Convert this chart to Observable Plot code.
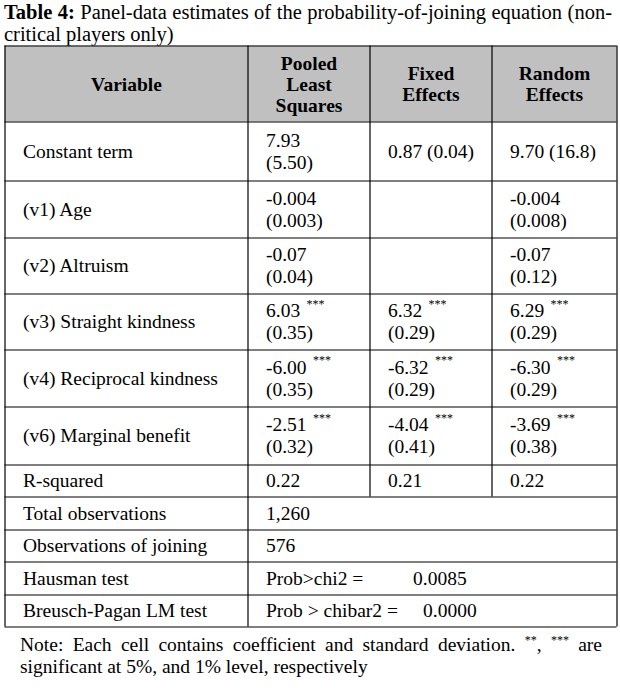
<!DOCTYPE html>
<html>
<head>
<meta charset="utf-8">
<script src="https://cdn.jsdelivr.net/npm/d3@7"></script>
<script src="https://cdn.jsdelivr.net/npm/@observablehq/plot@0.6"></script>
<style>
  body { margin: 0; background: #fff; color: #000; font-family: "Liberation Serif", "Times New Roman", serif; }
  #title { height: 44px; box-sizing: border-box; padding: 1px 8px 0 4px; font-size: 20.5px; line-height: 22px; }
  #title .j { word-spacing: -1.5px; }
  #note { margin-top: 6px; padding: 0 18px 0 20px; font-size: 19.5px; line-height: 22px; }
  .j { white-space: nowrap; text-align: justify; text-align-last: justify; }
  sup { font-size: 12px; line-height: 0; vertical-align: 7px; }
  #chart svg { display: block; }
</style>
</head>
<body>
<div id="title">
  <div class="j"><b>Table 4:</b> Panel-data estimates of the probability-of-joining equation (non-</div>
  <div>critical players only)</div>
</div>
<div id="chart"></div>
<div id="note">
  <div class="j">Note: Each cell contains coefficient and standard deviation. <sup>**</sup>, <sup>***</sup> are</div>
  <div>significant at 5%, and 1% level, respectively</div>
</div>
<script>
// ---------- DATA ----------
const headerVariable = "Variable";
const models = ["Pooled\nLeast\nSquares", "Fixed\nEffects", "Random\nEffects"];
const variables = ["Constant term", "(v1) Age", "(v2) Altruism", "(v3) Straight kindness", "(v4) Reciprocal kindness", "(v6) Marginal benefit"];

const pooledCoef = ["7.93", "-0.004", "-0.07", "6.03", "-6.00", "-2.51"];
const pooledSE   = ["5.50", "0.003", "0.04", "0.35", "0.35", "0.32"];
const pooledSig  = ["", "", "", "***", "***", "***"];

const fixedCoef  = ["0.87", null, null, "6.32", "-6.32", "-4.04"];
const fixedSE    = ["0.04", null, null, "0.29", "0.29", "0.41"];
const fixedSig   = ["", "", "", "***", "***", "***"];

const randomCoef = ["9.70", "-0.004", "-0.07", "6.29", "-6.30", "-3.69"];
const randomSE   = ["16.8", "0.008", "0.12", "0.29", "0.29", "0.38"];
const randomSig  = ["", "", "", "***", "***", "***"];

const rSquaredLabel = "R-squared";
const rSquared = ["0.22", "0.21", "0.22"];

const summaryLabels = ["Total observations", "Observations of joining", "Hausman test", "Breusch-Pagan LM test"];
const summaryText   = ["1,260", "576", "Prob>chi2 =", "Prob > chibar2 ="];
const summaryValue  = [null, null, "0.0085", "0.0000"];

// ---------- LAYOUT ----------
const FONT = "Liberation Serif";
const FS = 19.5;
const svgTop = 44;
const colEdges = [4.5, 247.5, 369.5, 491.5, 616.5];
const rowEdgesAbs = [45.5, 121.5, 180.5, 237.5, 293.5, 349.5, 406.5, 464.5, 496.5, 529.5, 561.5, 594.5, 626.5];
const rowEdges = rowEdgesAbs.map(v => v - svgTop);
const padX = 18;
const halfLine = 11;
const inlineConstant = [false, true, true]; // constant row printed on one line for FE / RE
const summaryTab = [0, 0, 165, 175];        // tab stop of the test values

const coefs = [pooledCoef, fixedCoef, randomCoef];
const ses = [pooledSE, fixedSE, randomSE];
const sigs = [pooledSig, fixedSig, randomSig];

const nCols = models.length + 1;
const nRows = 1 + variables.length + 1 + summaryLabels.length;
const rSqRow = variables.length + 1;

const cells = [];
models.forEach((m, j) => {
  variables.forEach((v, i) => {
    if (coefs[j][i] == null) return;
    cells.push({
      col: j + 1, row: i + 1,
      coef: coefs[j][i], se: "(" + ses[j][i] + ")", sig: sigs[j][i],
      inline: i === 0 && inlineConstant[j]
    });
  });
});

const ctx = document.createElement("canvas").getContext("2d");
ctx.font = `${FS}px "${FONT}"`;
const textW = s => ctx.measureText(s).width;

const headerCells = [headerVariable, ...models].map((t, i) => ({col: i, text: t}));
const rowLabels = [...variables, rSquaredLabel, ...summaryLabels].map((t, i) => ({row: i + 1, text: t}));
const rCells = rSquared.map((t, j) => ({col: j + 1, row: rSqRow, text: t}));
const sumCells = summaryText.map((t, i) => ({col: 1, row: rSqRow + 1 + i, text: t}));
const sumVals = summaryValue.map((t, i) => ({col: 1, row: rSqRow + 1 + i, text: t, tab: summaryTab[i]})).filter(d => d.text);

const vLines = d3.range(nCols + 1).map(c => ({x: c, y1: 0, y2: (c === 0 || c === 1 || c === nCols) ? nRows : rSqRow + 1}));

const common = {fontFamily: FONT, fontSize: FS, fill: "#000"};

const marks = [
  Plot.rect([{x1: 0, x2: nCols, y1: 0, y2: 1}], {x1: "x1", x2: "x2", y1: "y1", y2: "y2", fill: "#c0c0c0"}),
  Plot.ruleY(d3.range(nRows + 1), {y: d => d, x1: 0, x2: nCols, stroke: "#000", strokeWidth: 1.2}),
  Plot.ruleX(vLines, {x: "x", y1: "y1", y2: "y2", stroke: "#000", strokeWidth: 1.2}),
  Plot.text(headerCells, {x: d => d.col + 0.5, y: 0.5, text: "text", fontWeight: "bold", lineHeight: 21 / FS, textAnchor: "middle", ...common}),
  Plot.text(rowLabels, {x: 0, y: d => d.row + 0.5, text: "text", textAnchor: "start", dx: padX, ...common}),
  Plot.text(cells.filter(d => d.inline), {x: "col", y: d => d.row + 0.5, text: d => d.coef + " " + d.se, textAnchor: "start", dx: padX, ...common}),
  Plot.text(cells.filter(d => !d.inline), {x: "col", y: d => d.row + 0.5, text: "coef", textAnchor: "start", dx: padX, dy: -halfLine, ...common}),
  Plot.text(cells.filter(d => !d.inline), {x: "col", y: d => d.row + 0.5, text: "se", textAnchor: "start", dx: padX, dy: halfLine, ...common}),
  ...cells.filter(d => d.sig && !d.inline).map(d =>
    Plot.text([d], {x: "col", y: r => r.row + 0.5, text: "sig", textAnchor: "start", dx: padX + textW(d.coef + " ") + 1.5, dy: -halfLine - 7, fontFamily: FONT, fontSize: 12, fill: "#000"})
  ),
  Plot.text(rCells, {x: "col", y: d => d.row + 0.5, text: "text", textAnchor: "start", dx: padX, ...common}),
  Plot.text(sumCells, {x: "col", y: d => d.row + 0.5, text: "text", textAnchor: "start", dx: padX, ...common}),
  ...sumVals.map(d => Plot.text([d], {x: "col", y: r => r.row + 0.5, text: "text", textAnchor: "start", dx: d.tab, ...common}))
];

const chart = Plot.plot({
  width: 620,
  height: 584,
  margin: 0,
  x: {type: "linear", domain: d3.range(nCols + 1), range: colEdges, axis: null},
  y: {type: "linear", domain: d3.range(nRows + 1), range: rowEdges, axis: null},
  style: {background: "#fff", fontFamily: FONT},
  marks
});
document.getElementById("chart").append(chart);
</script>
</body>
</html>
